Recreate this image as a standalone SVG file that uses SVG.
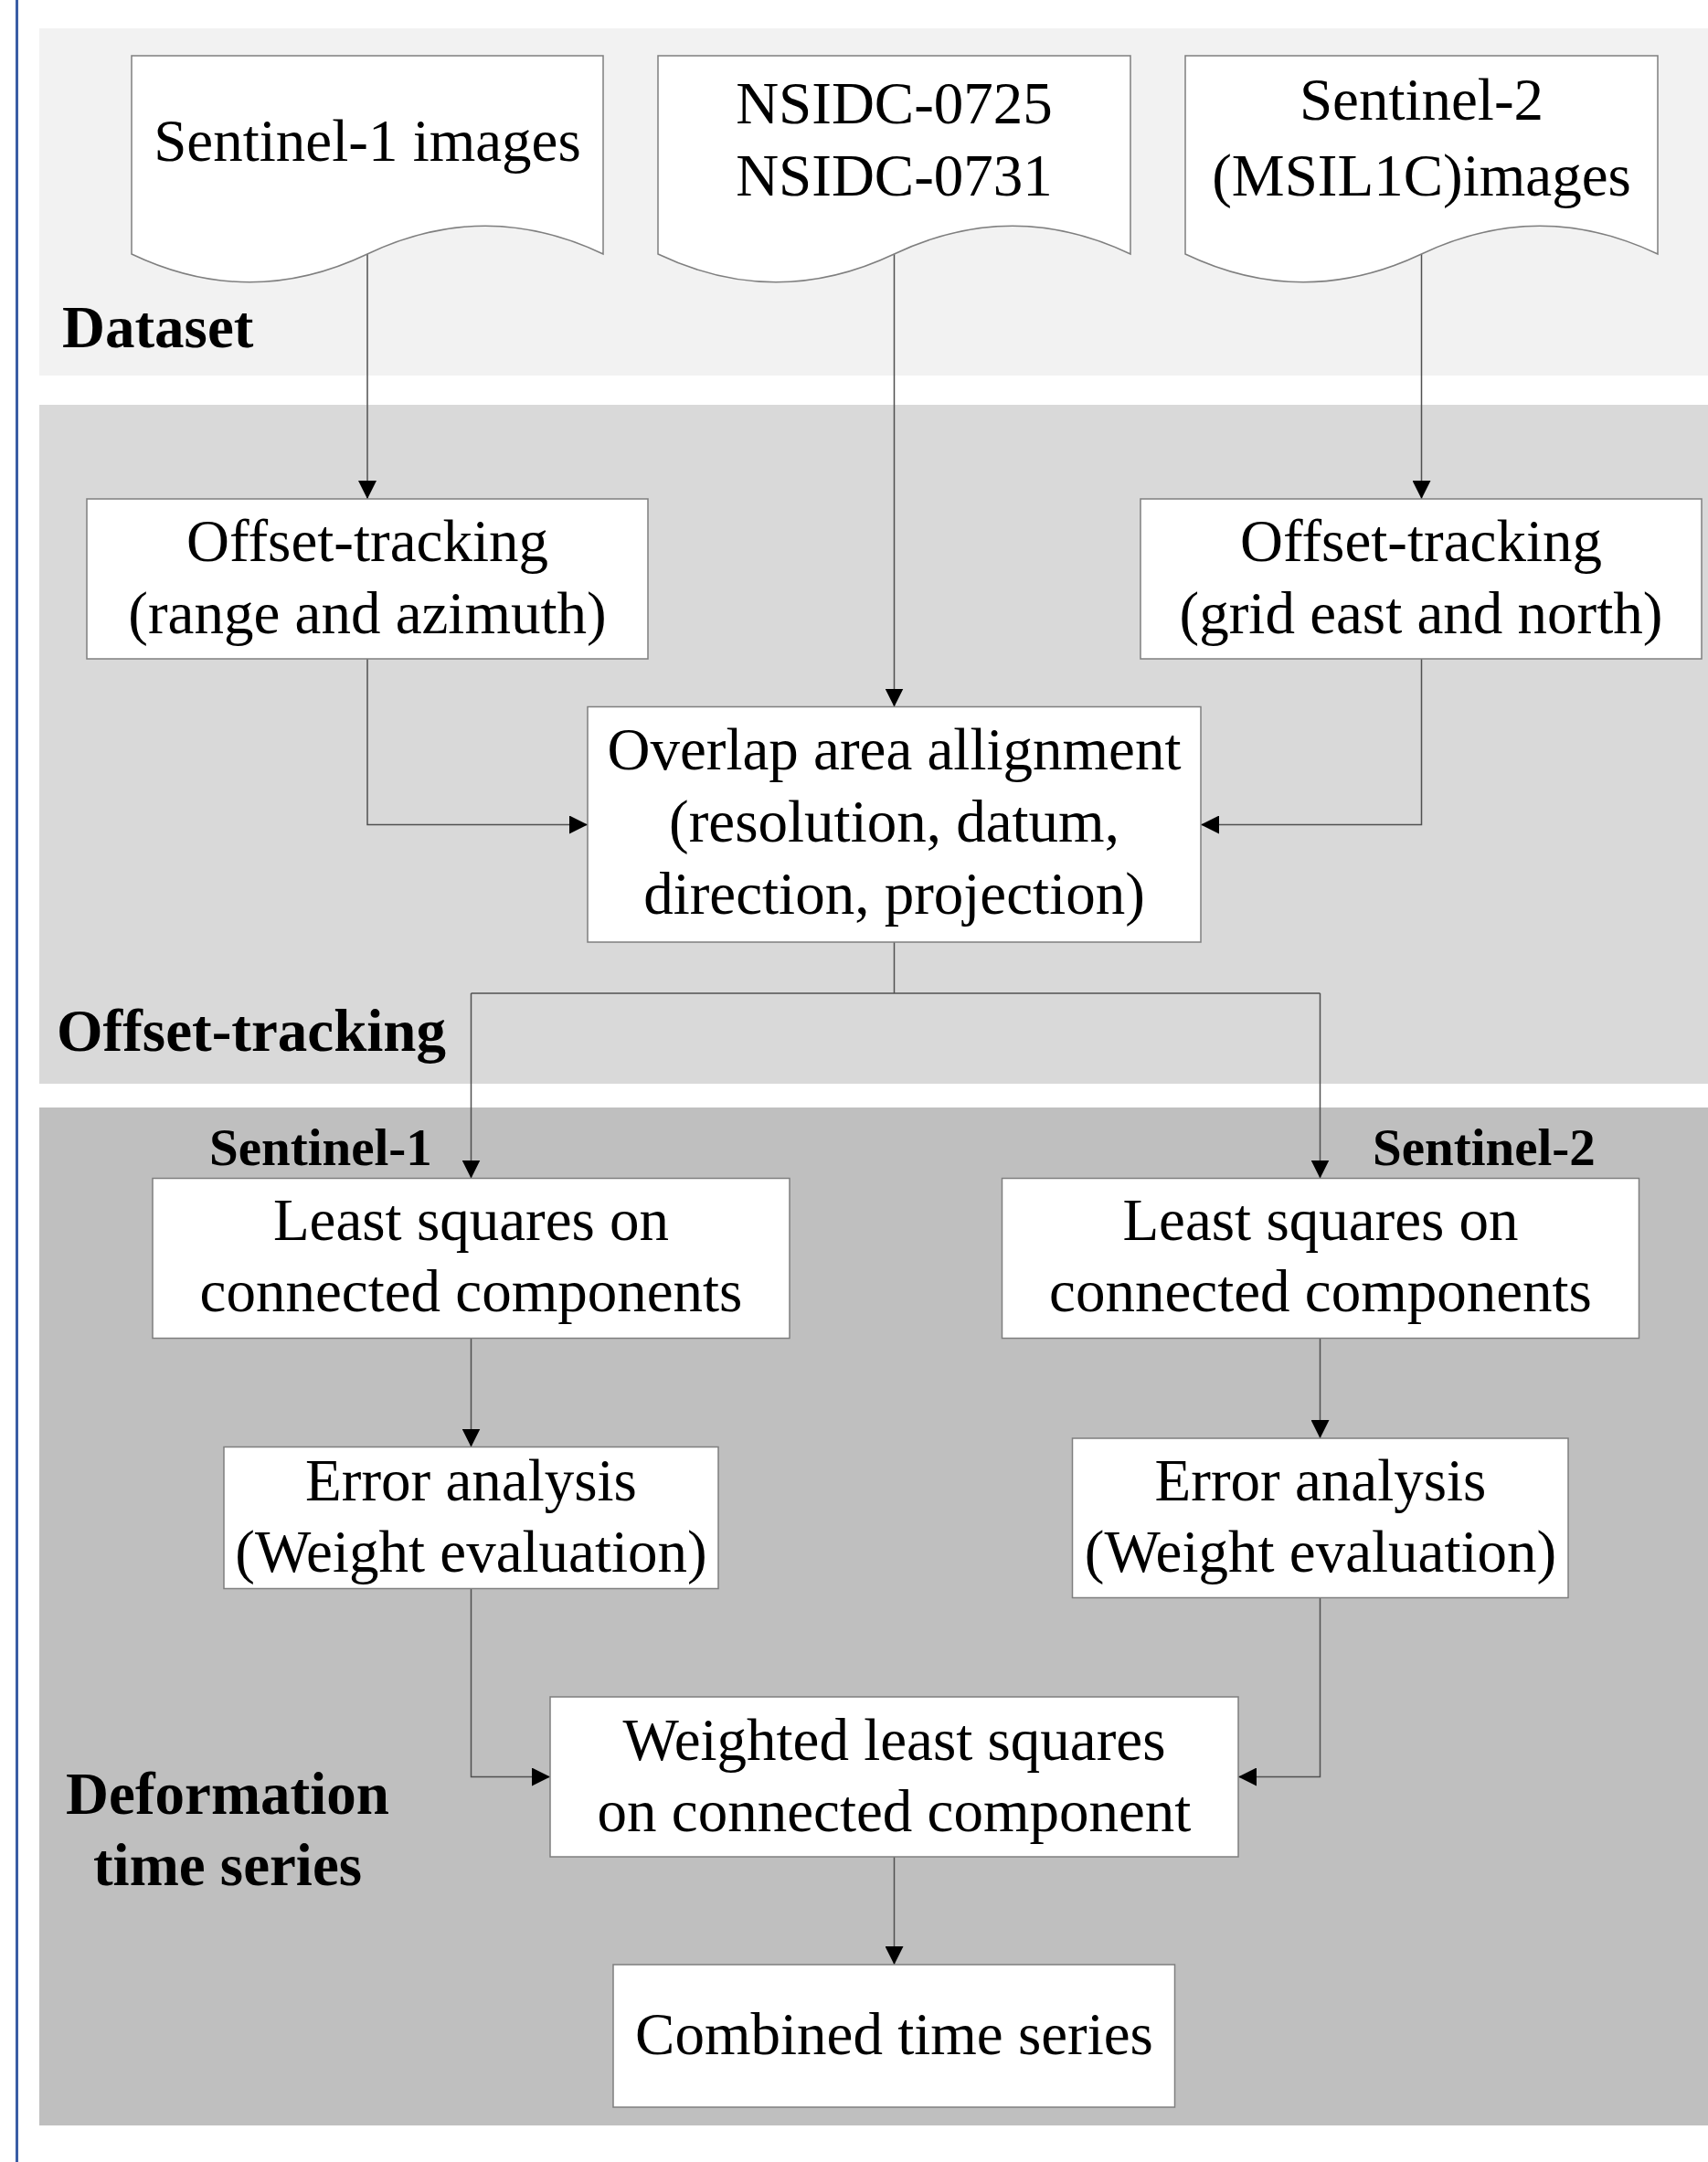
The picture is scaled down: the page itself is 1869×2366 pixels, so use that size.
<svg xmlns="http://www.w3.org/2000/svg" width="1869" height="2366" viewBox="0 0 1869 2366">
<style>
.band{stroke:none}
.box{fill:#ffffff;stroke:#7f7f7f;stroke-width:1.5}
.t{font-family:"Liberation Serif","Times New Roman",serif;font-size:65px;fill:#000;text-anchor:middle}
.lb{font-family:"Liberation Serif","Times New Roman",serif;font-weight:bold;font-size:65px;fill:#000}
.sl{font-size:57px}
.c{fill:none;stroke:#505050;stroke-width:1.5}
.ca{fill:none;stroke:#505050;stroke-width:1.5;marker-end:url(#arr)}
</style>
<defs>
<marker id="arr" markerUnits="userSpaceOnUse" markerWidth="20" markerHeight="20" viewBox="0 0 19 19" refX="19" refY="9.5" orient="auto">
<path d="M0,0 L19,9.5 L0,19 z" fill="#000"/>
</marker>
</defs>
<rect x="0" y="0" width="1869" height="2366" fill="#ffffff"/>
<line x1="18.5" y1="0" x2="18.5" y2="2366" stroke="#3a5da5" stroke-width="3"/>
<g id="bands">
<rect class="band" x="43" y="31" width="1826" height="380" fill="#f2f2f2"/>
<rect class="band" x="43" y="443" width="1826" height="743" fill="#d9d9d9"/>
<rect class="band" x="43" y="1212" width="1826" height="1114" fill="#bfbfbf"/>
</g>
<g id="labels">
<text class="lb" x="68" y="380">Dataset</text>
<text class="lb" x="62" y="1150">Offset-tracking</text>
<text class="lb sl" x="229" y="1275">Sentinel-1</text>
<text class="lb sl" x="1502" y="1275">Sentinel-2</text>
<text class="lb" x="249" y="1985" text-anchor="middle">Deformation</text>
<text class="lb" x="249" y="2063" text-anchor="middle">time series</text>
</g>
<g id="connectors">
<path class="ca" d="M402,277 V546"/>
<path class="ca" d="M978.5,277 V773.5"/>
<path class="ca" d="M1555.5,277 V546"/>
<path class="ca" d="M402,721 V902.5 H643"/>
<path class="ca" d="M1555.5,721 V902.5 H1314"/>
<path class="c" d="M978.5,1031 V1087"/>
<path class="c" d="M515.5,1087 H1444.5"/>
<path class="ca" d="M515.5,1087 V1289.5"/>
<path class="ca" d="M1444.5,1087 V1289.5"/>
<path class="ca" d="M515.5,1464.5 V1583.5"/>
<path class="ca" d="M1444.5,1464.5 V1574"/>
<path class="ca" d="M515.5,1738.5 V1944.5 H602"/>
<path class="ca" d="M1444.5,1748.5 V1944.5 H1355"/>
<path class="ca" d="M978.5,2032 V2150"/>
</g>
<g id="doc-sentinel1">
<path class="box" d="M144,61 H660 V278 C574,237 488,237 402,278 C316,319 230,319 144,278 Z"/>
<text class="t" x="402" y="176">Sentinel-1 images</text>
</g>
<g id="doc-nsidc">
<path class="box" d="M720,61 H1237 V278 C1151,237 1065,237 978.5,278 C892,319 806,319 720,278 Z"/>
<text class="t" x="978.5" y="135">NSIDC-0725</text>
<text class="t" x="978.5" y="214">NSIDC-0731</text>
</g>
<g id="doc-sentinel2">
<path class="box" d="M1297,61 H1814 V278 C1728,237 1642,237 1555.5,278 C1469,319 1383,319 1297,278 Z"/>
<text class="t" x="1555.5" y="131">Sentinel-2</text>
<text class="t" x="1555.5" y="214">(MSIL1C)images</text>
</g>
<g id="offset-s1">
<rect class="box" x="95" y="546" width="614" height="175"/>
<text class="t" x="402" y="614">Offset-tracking</text>
<text class="t" x="402" y="693">(range and azimuth)</text>
</g>
<g id="offset-s2">
<rect class="box" x="1248" y="546" width="614" height="175"/>
<text class="t" x="1555" y="614">Offset-tracking</text>
<text class="t" x="1555" y="693">(grid east and north)</text>
</g>
<g id="overlap">
<rect class="box" x="643" y="773.5" width="671" height="257.5"/>
<text class="t" x="978.5" y="842">Overlap area allignment</text>
<text class="t" x="978.5" y="921">(resolution, datum,</text>
<text class="t" x="978.5" y="1000">direction, projection)</text>
</g>
<g id="ls-s1">
<rect class="box" x="167" y="1289.5" width="697" height="175"/>
<text class="t" x="515.5" y="1357">Least squares on</text>
<text class="t" x="515.5" y="1435">connected components</text>
</g>
<g id="ls-s2">
<rect class="box" x="1096.5" y="1289.5" width="697" height="175"/>
<text class="t" x="1445" y="1357">Least squares on</text>
<text class="t" x="1445" y="1435">connected components</text>
</g>
<g id="err-s1">
<rect class="box" x="245" y="1583.5" width="541" height="155"/>
<text class="t" x="515.5" y="1642">Error analysis</text>
<text class="t" x="515.5" y="1720">(Weight evaluation)</text>
</g>
<g id="err-s2">
<rect class="box" x="1173.5" y="1574" width="542.5" height="174.5"/>
<text class="t" x="1445" y="1642">Error analysis</text>
<text class="t" x="1445" y="1720">(Weight evaluation)</text>
</g>
<g id="weighted">
<rect class="box" x="602" y="1857" width="753" height="175"/>
<text class="t" x="978.5" y="1926">Weighted least squares</text>
<text class="t" x="978.5" y="2004">on connected component</text>
</g>
<g id="combined">
<rect class="box" x="671" y="2150" width="614.5" height="156"/>
<text class="t" x="978.5" y="2248">Combined time series</text>
</g>
</svg>
